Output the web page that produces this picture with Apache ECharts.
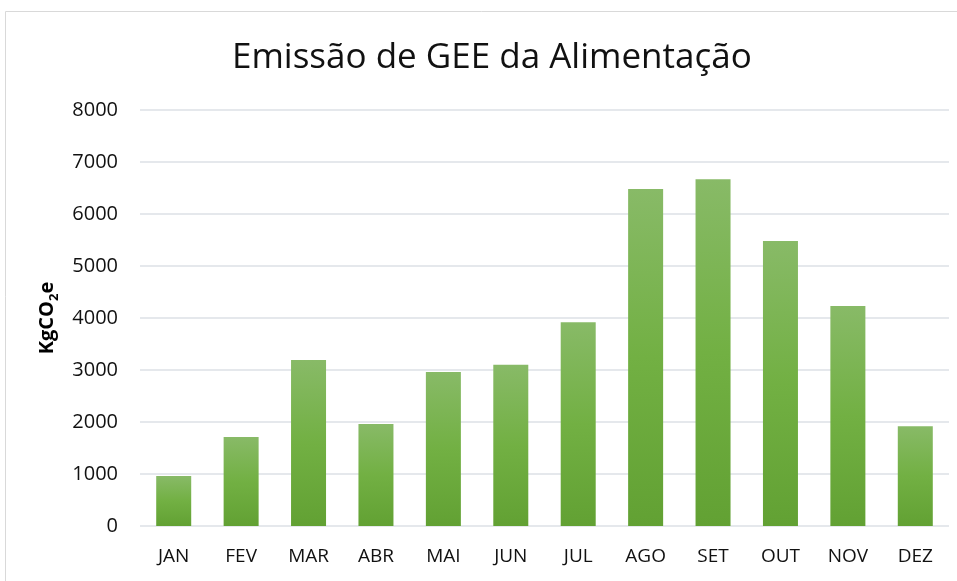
<!DOCTYPE html>
<html>
<head>
<meta charset="utf-8">
<script src="https://cdn.jsdelivr.net/npm/echarts@6/dist/echarts.min.js"></script>
<style>
  html, body { margin: 0; padding: 0; background: #fff; }
  #chart { width: 957px; height: 581px; }
</style>
</head>
<body>
<div id="chart"></div>
<script>
// monthly emissions (kgCO2e)
const months = ['JAN', 'FEV', 'MAR', 'ABR', 'MAI', 'JUN', 'JUL', 'AGO', 'SET', 'OUT', 'NOV', 'DEZ'];
const emissions = [960, 1710, 3190, 1960, 2960, 3100, 3920, 6480, 6670, 5480, 4230, 1920];

const chart = echarts.init(document.getElementById('chart'));
const font = '"Open Sans", "Noto Sans", sans-serif';

chart.setOption({
  animation: false,
  graphic: [{
    type: 'rect',
    shape: { x: 5.5, y: 11.5, width: 960, height: 600 },
    style: { fill: 'none', stroke: '#d9d9d9', lineWidth: 1 },
    silent: true
  }],
  title: {
    text: 'Emissão de GEE da Alimentação',
    left: 227,
    top: 36,
    textStyle: { fontFamily: font, fontWeight: 'normal', fontSize: 35, color: '#111' }
  },
  grid: { left: 140, right: 8, top: 110, bottom: 55 },
  xAxis: {
    type: 'category',
    data: months,
    axisLine: { show: false },
    axisTick: { show: false },
    axisLabel: { fontFamily: font, fontSize: 19, color: '#111', margin: 21 }
  },
  yAxis: {
    type: 'value',
    min: 0,
    max: 8000,
    interval: 1000,
    name: '{a|KgCO}{s|2}{a|e}',
    nameLocation: 'middle',
    nameRotate: 90,
    nameGap: 79,
    nameTextStyle: {
      rich: {
        a: { fontFamily: font, fontSize: 20, fontWeight: 'bold', color: '#000' },
        s: { fontFamily: font, fontSize: 13, fontWeight: 'bold', color: '#000', padding: [14, 0, 0, 0] }
      }
    },
    axisLabel: { fontFamily: font, fontSize: 20, color: '#111', margin: 22, formatter: v => String(v) },
    splitLine: { lineStyle: { color: '#dde1e6', width: 1.5 } }
  },
  series: [{
    type: 'bar',
    data: emissions,
    barWidth: 35,
    itemStyle: {
      color: new echarts.graphic.LinearGradient(0, 0, 0, 1, [
        { offset: 0, color: '#88ba67' },
        { offset: 0.5, color: '#72b043' },
        { offset: 1, color: '#62a133' }
      ])
    }
  }]
});
</script>
</body>
</html>
